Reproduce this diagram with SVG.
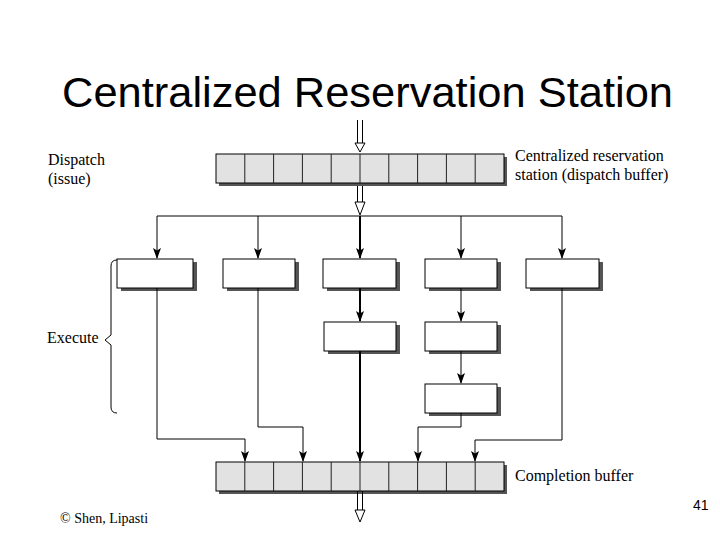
<svg xmlns="http://www.w3.org/2000/svg" xmlns:xlink="http://www.w3.org/1999/xlink" width="720" height="540" viewBox="0 0 720 540">
<style>
.title{font-family:"Liberation Sans",Arial,sans-serif;font-size:42px;fill:#000}
.lbl{font-family:"Liberation Serif","Times New Roman",serif;font-size:16px;fill:#000}
.copy{font-family:"Liberation Serif","Times New Roman",serif;font-size:14px;fill:#000}
.pg{font-family:"Liberation Sans",Arial,sans-serif;font-size:14px;fill:#000}
.shadow{fill:#555}
.box{fill:#fff;stroke:#000;stroke-width:1}
.buf{fill:#e2e2e2;stroke:#000;stroke-width:1}
.div{stroke:#222;stroke-width:1}
.ln{fill:none;stroke:#000;stroke-width:1}
.thick{fill:none;stroke:#000;stroke-width:2}
.hollow{fill:#fff;stroke:#000;stroke-width:1}
</style>
<defs>
<path id="ah" d="M-4,-11 L0,-8.5 L4,-11 L0,0 Z" fill="#000"/>
</defs>
<rect width="720" height="540" fill="#fff"/>
<text class="title" x="62" y="107" textLength="611" lengthAdjust="spacingAndGlyphs">Centralized Reservation Station</text>

<g id="labels">
<text class="lbl" x="48" y="165">Dispatch</text>
<text class="lbl" x="48" y="184">(issue)</text>
<text class="lbl" x="47" y="343">Execute</text>
<text class="lbl" x="515" y="161">Centralized reservation</text>
<text class="lbl" x="515" y="180">station (dispatch buffer)</text>
<text class="lbl" x="515" y="481">Completion buffer</text>
<text class="copy" x="60" y="523">© Shen, Lipasti</text>
<text class="pg" x="693" y="510">41</text>
<path class="ln" d="M117,260 Q111,260 111,266 V335 L105,340 L111,345 V407 Q111,413 117,413" stroke-width="1.5"/>
</g>

<g id="dispatch-buffer">
<rect class="shadow" x="219" y="157" width="288" height="29"/>
<rect class="buf" x="216" y="154" width="288" height="29"/>
<path class="div" d="M244.8,154V183M273.6,154V183M302.4,154V183M331.2,154V183M360,154V183M388.8,154V183M417.6,154V183M446.4,154V183M475.2,154V183"/>
</g>

<g id="completion-buffer">
<rect class="shadow" x="219" y="465" width="288" height="29"/>
<rect class="buf" x="216" y="462" width="288" height="29"/>
<path class="div" d="M244.8,462V491M273.6,462V491M302.4,462V491M331.2,462V491M360,462V491M388.8,462V491M417.6,462V491M446.4,462V491M475.2,462V491"/>
</g>

<g id="fu1"><rect class="shadow" x="121" y="262" width="76" height="29"/><rect class="box" x="117" y="259" width="76" height="29"/></g>
<g id="fu2"><rect class="shadow" x="227" y="262" width="72" height="29"/><rect class="box" x="223" y="259" width="72" height="29"/></g>
<g id="fu3"><rect class="shadow" x="327" y="262" width="73" height="29"/><rect class="box" x="323" y="259" width="73" height="29"/></g>
<g id="fu4"><rect class="shadow" x="429" y="262" width="72" height="29"/><rect class="box" x="425" y="259" width="72" height="29"/></g>
<g id="fu5"><rect class="shadow" x="530" y="262" width="73" height="29"/><rect class="box" x="526" y="259" width="73" height="29"/></g>
<g id="fu3b"><rect class="shadow" x="328" y="325" width="72" height="29"/><rect class="box" x="324" y="322" width="72" height="29"/></g>
<g id="fu4b"><rect class="shadow" x="429" y="325" width="72" height="29"/><rect class="box" x="425" y="322" width="72" height="29"/></g>
<g id="fu4c"><rect class="shadow" x="429" y="387" width="72" height="29"/><rect class="box" x="425" y="384" width="72" height="29"/></g>

<g id="connectors">
<!-- double hollow arrows -->
<path class="ln" d="M357.5,120V143M362.5,120V143"/>
<polygon class="hollow" points="355,143 365,143 360,152"/>
<path class="ln" d="M357.5,186V202M362.5,186V202"/>
<polygon class="hollow" points="355,202 365,202 360,215"/>
<path class="ln" d="M357.5,491V510M362.5,491V510"/>
<polygon class="hollow" points="355,510 365,510 360,522"/>
<!-- distribution -->
<path class="ln" d="M157,258V216H562V258"/>
<path class="ln" d="M258,216V258M461,216V258"/>
<path class="thick" d="M360,216V258"/>
<use xlink:href="#ah" x="157" y="259"/>
<use xlink:href="#ah" x="258" y="259"/>
<use xlink:href="#ah" x="360" y="259"/>
<use xlink:href="#ah" x="461" y="259"/>
<use xlink:href="#ah" x="562" y="259"/>
<!-- pipeline stages -->
<path class="thick" d="M360,288V321"/>
<use xlink:href="#ah" x="360" y="322"/>
<path class="ln" d="M461,288V321M461,351V383"/>
<use xlink:href="#ah" x="461" y="322"/>
<use xlink:href="#ah" x="461" y="384"/>
<!-- to completion buffer -->
<path class="ln" d="M157,288V439H245V461"/>
<path class="ln" d="M258,288V427H303V461"/>
<path class="thick" d="M360,351V461"/>
<path class="ln" d="M461,413V427H418V461"/>
<path class="ln" d="M562,288V440H475V461"/>
<use xlink:href="#ah" x="245" y="462"/>
<use xlink:href="#ah" x="303" y="462"/>
<use xlink:href="#ah" x="360" y="462"/>
<use xlink:href="#ah" x="418" y="462"/>
<use xlink:href="#ah" x="475" y="462"/>
</g>
</svg>
